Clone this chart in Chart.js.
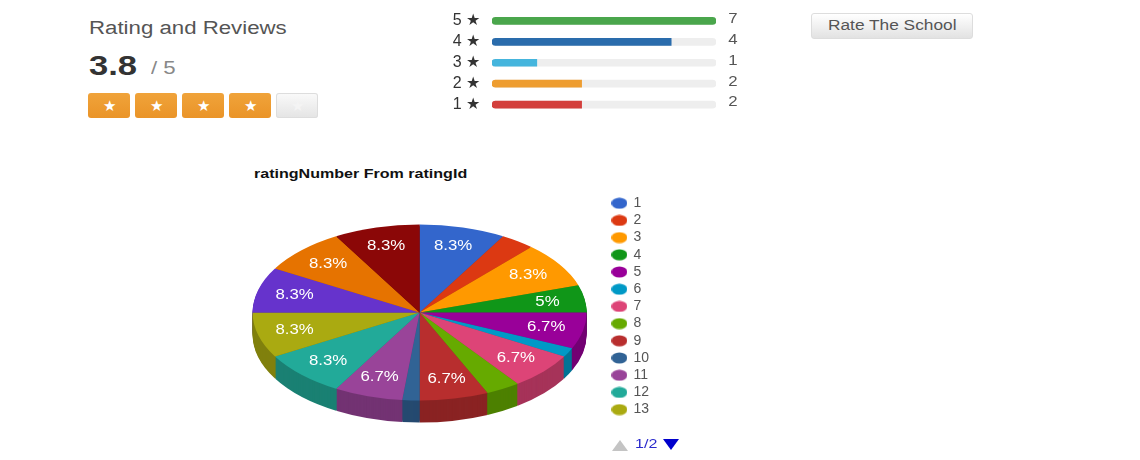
<!DOCTYPE html>
<html>
<head>
<meta charset="utf-8">
<script src="https://cdn.jsdelivr.net/npm/chart.js@4"></script>
<style>
  html, body { margin: 0; background: #fff; overflow: hidden; width: 1140px; height: 460px; }
  body { font-family: "Liberation Sans", Arial, sans-serif; position: relative; }
  .abs { position: absolute; white-space: nowrap; }
  /* the reference text is stretched sideways */
  .wide { transform: scaleX(1.235); transform-origin: left center; }
  canvas { position: absolute; }
  #heading { left: 89px; top: 18px; font-size: 18px; color: #555; }
  #score { left: 89px; top: 50px; font-size: 28px; font-weight: bold; color: #333; }
  #outOf { left: 151px; top: 58px; font-size: 18px; color: #888; }
  #pieTitle { left: 254px; top: 166px; font-size: 13px; font-weight: bold; color: #111; }
  .star { position: absolute; top: 93px; height: 25px; width: 42px; border-radius: 3px; text-align: center;
          line-height: 25px; font-size: 15px; color: #fff; background: linear-gradient(#f0a33a, #ea9428); }
  .star.off { background: linear-gradient(#fafafa, #e4e4e4); color: #f4f4f4; box-shadow: inset 0 0 0 1px #ddd; }
  #rateBtn { left: 811px; top: 13px; width: 162px; height: 26px; box-sizing: border-box;
             border: 1px solid #ddd; border-radius: 3px; background: linear-gradient(#fff, #e2e2e2); }
  #rateText { left: 16px; top: 3px; font-size: 14px; color: #555; }
  #pageNo { left: 635px; top: 436px; font-size: 13px; color: #2a2acc; }
  .tri { position: absolute; width: 0; height: 0; border-left: 8px solid transparent; border-right: 8px solid transparent; }
  #pageUp { left: 612px; top: 440px; border-bottom: 11px solid #c4c4c4; }
  #pageDown { left: 663px; top: 439px; border-top: 11px solid #0000cc; }
</style>
</head>
<body>
<div class="abs wide" id="heading">Rating and Reviews</div>
<div class="abs wide" id="score">3.8</div>
<div class="abs wide" id="outOf">/ 5</div>
<div id="stars"></div>
<canvas id="barsChart" width="330" height="115" style="left:430px;top:0"></canvas>
<div class="abs" id="rateBtn"><div class="abs wide" id="rateText">Rate The School</div></div>
<div class="abs wide" id="pieTitle">ratingNumber From ratingId</div>
<canvas id="pieChart" width="480" height="300" style="left:230px;top:160px"></canvas>
<div class="tri" id="pageUp"></div>
<div class="abs wide" id="pageNo">1/2</div>
<div class="tri" id="pageDown"></div>

<script>
const ratingLabels = ["5 ★", "4 ★", "3 ★", "2 ★", "1 ★"];
const ratingCounts = [7, 4, 1, 2, 2];
const ratingWidths = [100, 80, 20, 40, 40];
const ratingColors = ["#4aa64c", "#2a6cac", "#45b5dd", "#ee9d30", "#d33f3c"];

const pieLabels = ["1", "2", "3", "4", "5", "6", "7", "8", "9", "10", "11", "12", "13", "14", "15", "16"];
const pieCounts = [5, 2, 5, 3, 4, 1, 4, 2, 4, 1, 4, 5, 5, 5, 5, 5];
const pieColors = ["#3366cc", "#dc3912", "#ff9900", "#109618", "#990099", "#0099c6", "#dd4477", "#66aa00",
                   "#b82e2e", "#316395", "#994499", "#22aa99", "#aaaa11", "#6633cc", "#e67300", "#8b0707"];
const pieSides = ["#264d99", "#a52b0e", "#bf7300", "#0c7112", "#730073", "#007395", "#a63359", "#4d8000",
                  "#8a2323", "#254a70", "#733373", "#1a8073", "#80800d", "#4d2699", "#ad5600", "#680505"];

const starOffsets = [88, 135, 182, 229, 276];
const starsOn = 4;

const starBox = document.getElementById("stars");
starOffsets.forEach((left, i) => {
  const s = document.createElement("div");
  s.className = i < starsOn ? "star" : "star off";
  s.style.left = left + "px";
  s.textContent = "★";
  starBox.appendChild(s);
});

Chart.defaults.font.family = '"Liberation Sans", Arial, sans-serif';

const textStretch = 1.2;

// count written to the right of each bar
const countLabels = {
  id: "countLabels",
  afterDatasetsDraw(chart) {
    const { ctx, scales } = chart;
    ctx.font = '14px "Liberation Sans", Arial, sans-serif';
    ctx.fillStyle = "#555";
    ctx.textAlign = "center";
    ctx.textBaseline = "middle";
    ratingCounts.forEach((c, i) => {
      ctx.save();
      ctx.translate(scales.x.right + 17, scales.y.getPixelForValue(i) - 2);
      ctx.scale(textStretch, 1);
      ctx.fillText(c, 0, 0);
      ctx.restore();
    });
  }
};

new Chart(document.getElementById("barsChart"), {
  type: "bar",
  data: {
    labels: ratingLabels,
    datasets: [
      {
        data: ratingWidths,
        backgroundColor: ratingColors,
        barThickness: 7,
        borderSkipped: false,
        borderRadius: c => {
          const r = c.raw >= 100 ? 4 : 0;
          return { topLeft: 4, bottomLeft: 4, topRight: r, bottomRight: r };
        },
        order: 1
      },
      {
        data: ratingWidths.map(() => 100),
        backgroundColor: "#eeeeee",
        barThickness: 7,
        borderSkipped: false,
        borderRadius: 4,
        order: 2
      }
    ]
  },
  options: {
    indexAxis: "y",
    responsive: false,
    animation: false,
    layout: { padding: { top: 10.5, right: 44 } },
    plugins: { legend: { display: false }, tooltip: { enabled: false } },
    scales: {
      x: { display: false, min: 0, max: 100 },
      y: {
        afterFit(scale) {
          scale.width = 62;
          scale.paddingTop = 0;
          scale.paddingBottom = 0;
        },
        grid: { display: false, drawTicks: false },
        border: { display: false },
        ticks: { color: "#333", padding: 12, autoSkip: false, font: { size: 16 } }
      }
    },
    datasets: { bar: { grouped: false } }
  },
  plugins: [countLabels]
});

// squashes the flat pie into an ellipse and puts a wall under it
const squash = 88 / 167;
const wallDepth = 22;

const tiltedPie = {
  id: "tiltedPie",
  beforeDatasetDraw(chart, args) {
    const ctx = chart.ctx;
    const arcs = args.meta.data;
    const { x, y } = arcs[0];
    for (let d = wallDepth; d >= 1; d--) {
      arcs.forEach((arc, i) => {
        ctx.save();
        ctx.translate(x, y + d);
        ctx.scale(1, squash);
        ctx.beginPath();
        ctx.moveTo(0, 0);
        ctx.arc(0, 0, arc.outerRadius, arc.startAngle, arc.endAngle);
        ctx.closePath();
        ctx.fillStyle = pieSides[i];
        ctx.fill();
        ctx.restore();
      });
    }
    ctx.save();
    ctx.translate(x, y);
    ctx.scale(1, squash);
    ctx.translate(-x, -y);
  },
  afterDatasetDraw(chart) {
    chart.ctx.restore();
  },
  afterDatasetsDraw(chart) {
    const ctx = chart.ctx;
    const arcs = chart.getDatasetMeta(0).data;
    const total = pieCounts.reduce((a, b) => a + b, 0);
    ctx.font = '14px "Liberation Sans", Arial, sans-serif';
    ctx.fillStyle = "#fff";
    ctx.textAlign = "center";
    ctx.textBaseline = "middle";
    arcs.forEach((arc, i) => {
      const pct = pieCounts[i] / total * 100;
      if (pct < 4) return;
      const mid = (arc.startAngle + arc.endAngle) / 2;
      const r = arc.outerRadius * 0.775;
      ctx.save();
      ctx.translate(arc.x + Math.cos(mid) * r, arc.y + Math.sin(mid) * r * squash);
      ctx.scale(textStretch, 1);
      ctx.fillText(+pct.toFixed(1) + "%", 0, 0);
      ctx.restore();
    });
  }
};

// the legend marks are small ellipses
function ellipseMark(color) {
  const c = document.createElement("canvas");
  c.width = 16;
  c.height = 12;
  const g = c.getContext("2d");
  g.fillStyle = color;
  g.beginPath();
  g.ellipse(8, 6, 8, 5.5, 0, 0, Math.PI * 2);
  g.fill();
  return c;
}

new Chart(document.getElementById("pieChart"), {
  type: "pie",
  data: {
    labels: pieLabels,
    datasets: [{ data: pieCounts, backgroundColor: pieColors, borderWidth: 0, radius: 167, clip: false }]
  },
  options: {
    responsive: false,
    animation: false,
    layout: { padding: { top: 33, right: 51, bottom: 28 } },
    plugins: {
      tooltip: { enabled: false },
      legend: {
        position: "right",
        align: "start",
        labels: {
          color: "#555",
          font: { size: 14 },
          usePointStyle: true,
          padding: 3.2,
          filter: item => item.index < 13,
          generateLabels(chart) {
            return pieLabels.map((text, i) => ({
              text,
              index: i,
              pointStyle: ellipseMark(pieColors[i]),
              fillStyle: pieColors[i],
              strokeStyle: pieColors[i],
              lineWidth: 0,
              fontColor: "#555"
            }));
          }
        }
      }
    }
  },
  plugins: [tiltedPie]
});
</script>
</body>
</html>
